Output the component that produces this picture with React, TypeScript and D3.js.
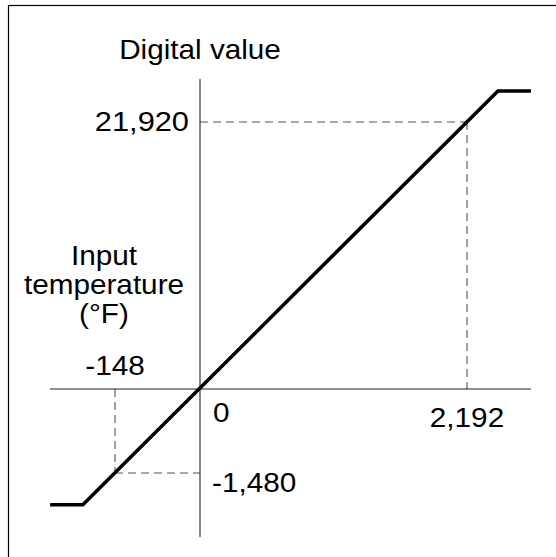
import React from 'react';
import * as d3 from 'd3';

// input temperature (°F) and digital value, end points and knee points of the transfer line
const inputTemp = [-261, -204, 2446, 2717];
const digitalValue = [-2040, -2040, 24460, 24460];

// labelled reference points
const xTicks = [-148, 0, 2192];
const yTicks = [-1480, 0, 21920];
const xTickLabels = ['-148', '0', '2,192'];
const yTickLabels = ['-1,480', '0', '21,920'];

// axis extents in data units
const xAxisExtent = [-261, 2717];
const yAxisExtent = [-2608, 25450];

const W = 556;
const H = 557;
const FONT = '"Liberation Sans", Arial, Helvetica, sans-serif';
const STRETCH = 1.08;

// piecewise scales: the picture is not drawn to scale on each side of zero
const x = d3.scaleLinear().domain(xTicks).range([115, 200, 467]);
const y = d3.scaleLinear().domain(yTicks).range([473, 389, 122]);

const Label: React.FC<{ x: number; y: number; anchor?: string; size?: number; children: React.ReactNode }> = ({
    x: lx, y: ly, anchor = 'middle', size = 27.5, children,
}) => (
    <text
        transform={`translate(${lx},${ly}) scale(${STRETCH},1)`}
        textAnchor={anchor}
        fontSize={size}
        fontFamily={FONT}
        fill="#000"
    >
        {children}
    </text>
);

export default function App() {
    const pts = inputTemp.map((t, i) => [t, digitalValue[i]] as [number, number]);
    const line = d3.line<[number, number]>().x(d => x(d[0])).y(d => y(d[1]));

    const x0 = x(0);
    const y0 = y(0);

    return (
        <svg width={W} height={H} style={{ position: 'absolute', left: 0, top: 0, background: '#fff' }}>
            {/* frame: only left and top edges fall inside the picture */}
            <rect x={8.5} y={5.5} width={600} height={600} fill="none" stroke="#000" strokeWidth={1.2} />

            {/* dashed guides */}
            <g stroke="#555" strokeWidth={1.1} strokeDasharray="8,5" fill="none">
                <line x1={x0} y1={y(21920)} x2={x(2192)} y2={y(21920)} />
                <line x1={x(2192)} y1={y(21920)} x2={x(2192)} y2={y0} />
                <line x1={x(-148)} y1={y0} x2={x(-148)} y2={y(-1480)} />
                <line x1={x(-148)} y1={y(-1480)} x2={x0} y2={y(-1480)} />
            </g>

            {/* axes */}
            <g stroke="#222" strokeWidth={1.1}>
                <line x1={x(xAxisExtent[0])} y1={y0} x2={x(xAxisExtent[1])} y2={y0} />
                <line x1={x0} y1={y(yAxisExtent[1])} x2={x0} y2={y(yAxisExtent[0])} />
            </g>

            {/* transfer line */}
            <path d={line(pts) ?? ''} fill="none" stroke="#000" strokeWidth={3.6} strokeLinejoin="miter" />

            {/* titles */}
            <Label x={x0} y={59}>Digital value</Label>
            <Label x={104} y={265}>Input</Label>
            <Label x={104} y={294}>temperature</Label>
            <Label x={104} y={323}>(°F)</Label>

            {/* value labels */}
            <Label x={x(-148)} y={375}>{xTickLabels[0]}</Label>
            <Label x={x0 + 13} y={422} anchor="start">{xTickLabels[1]}</Label>
            <Label x={x(2192)} y={427}>{xTickLabels[2]}</Label>
            <Label x={x0 - 11} y={y(21920) + 9} anchor="end" size={28.5}>{yTickLabels[2]}</Label>
            <Label x={x0 + 12} y={y(-1480) + 19} anchor="start">{yTickLabels[0]}</Label>
        </svg>
    );
}
